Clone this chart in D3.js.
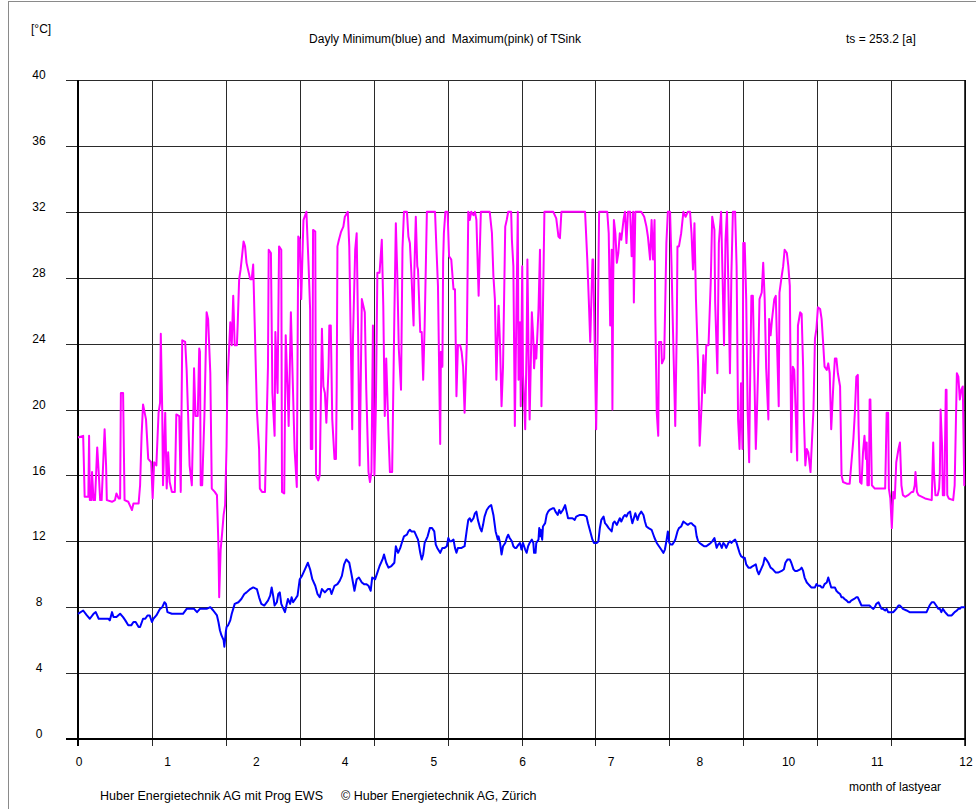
<!DOCTYPE html>
<html>
<head>
<meta charset="utf-8">
<script src="https://cdn.jsdelivr.net/npm/d3@7"></script>
<style>
  html, body { margin: 0; padding: 0; background: #fff; }
  svg { display: block; }
  text { font-family: "Liberation Sans", Arial, sans-serif; font-size: 12px; fill: #000; white-space: pre; }
</style>
</head>
<body>
<svg id="chart" width="976" height="809"></svg>
<script>
// ---- data ----
const titleText = "Dayly Minimum(blue) and  Maximum(pink) of TSink";
const unitText = "[°C]";
const tsText = "ts = 253.2 [a]";
const xAxisTitle = "month of lastyear";
const footerLeft = "Huber Energietechnik AG mit Prog EWS";
const footerRight = "© Huber Energietechnik AG, Zürich";

const yTicks = [0, 4, 8, 12, 16, 20, 24, 28, 32, 36, 40];
const yTickLabels = ["0", "4", "8", "12", "16", "20", "24", "28", "32", "36", "40"];
const monthGrid = [0, 1, 2, 3, 4, 5, 6, 7, 8, 9, 10, 11, 12];
const xLabelPos = [0, 1.2, 2.4, 3.6, 4.8, 6, 7.2, 8.4, 9.6, 10.8, 12];
const xLabels = ["0", "1", "2", "4", "5", "6", "7", "8", "10", "11", "12"];

// Daily maximum (pink): month position and temperature
const maxMonth = [0.00,0.07,0.08,0.09,0.14,0.15,0.16,0.18,0.19,0.21,0.23,0.26,0.28,0.30,0.32,0.36,0.38,0.39,0.46,0.50,0.52,0.55,0.57,0.58,0.61,0.62,0.63,0.68,0.70,0.73,0.75,0.82,0.84,0.86,0.88,0.92,0.95,0.99,1.01,1.03,1.06,1.09,1.11,1.12,1.14,1.15,1.18,1.20,1.22,1.24,1.27,1.31,1.33,1.37,1.39,1.41,1.45,1.47,1.49,1.51,1.54,1.56,1.57,1.59,1.62,1.64,1.65,1.66,1.68,1.71,1.74,1.76,1.79,1.81,1.85,1.88,1.90,1.91,1.93,1.95,1.97,1.99,2.01,2.02,2.06,2.08,2.10,2.12,2.15,2.16,2.18,2.20,2.24,2.26,2.28,2.33,2.35,2.37,2.39,2.42,2.45,2.46,2.49,2.53,2.57,2.58,2.61,2.63,2.66,2.67,2.70,2.72,2.75,2.76,2.79,2.81,2.84,2.85,2.88,2.90,2.93,2.96,2.98,3.00,3.02,3.05,3.09,3.12,3.14,3.15,3.17,3.18,3.21,3.22,3.25,3.27,3.30,3.32,3.34,3.36,3.39,3.40,3.42,3.44,3.47,3.49,3.50,3.51,3.53,3.56,3.59,3.61,3.65,3.67,3.69,3.71,3.72,3.75,3.77,3.79,3.81,3.84,3.86,3.88,3.90,3.93,3.95,3.97,3.99,4.01,4.03,4.05,4.08,4.11,4.13,4.15,4.17,4.20,4.22,4.25,4.28,4.30,4.32,4.34,4.37,4.39,4.41,4.45,4.47,4.49,4.51,4.54,4.55,4.57,4.59,4.60,4.63,4.65,4.67,4.69,4.72,4.83,4.85,4.87,4.90,4.91,4.93,4.94,4.95,4.97,5.00,5.02,5.05,5.08,5.10,5.12,5.14,5.17,5.19,5.21,5.23,5.26,5.28,5.30,5.32,5.35,5.37,5.39,5.42,5.45,5.57,5.60,5.62,5.64,5.66,5.69,5.71,5.73,5.75,5.78,5.80,5.82,5.86,5.87,5.89,5.91,5.93,5.95,5.96,5.98,5.99,6.01,6.02,6.05,6.07,6.08,6.10,6.11,6.14,6.16,6.17,6.19,6.20,6.23,6.25,6.27,6.29,6.31,6.43,6.47,6.50,6.52,6.54,6.86,6.89,6.91,6.93,6.96,6.97,6.99,7.01,7.03,7.05,7.16,7.18,7.20,7.22,7.23,7.24,7.25,7.27,7.29,7.31,7.33,7.35,7.38,7.40,7.42,7.44,7.47,7.49,7.51,7.52,7.54,7.62,7.66,7.69,7.71,7.74,7.76,7.78,7.80,7.81,7.83,7.85,7.86,7.89,7.90,7.93,7.95,7.96,7.98,8.01,8.03,8.05,8.08,8.10,8.11,8.13,8.16,8.19,8.22,8.25,8.28,8.30,8.32,8.34,8.36,8.39,8.41,8.44,8.46,8.48,8.50,8.53,8.56,8.58,8.61,8.62,8.65,8.67,8.70,8.72,8.74,8.76,8.78,8.80,8.82,8.84,8.86,8.89,8.91,8.93,8.95,8.97,8.99,9.00,9.02,9.04,9.06,9.08,9.09,9.11,9.13,9.15,9.17,9.18,9.20,9.22,9.25,9.27,9.29,9.31,9.34,9.35,9.37,9.39,9.42,9.44,9.46,9.48,9.49,9.52,9.54,9.56,9.59,9.61,9.63,9.65,9.67,9.69,9.71,9.73,9.74,9.77,9.79,9.81,9.82,9.84,9.86,9.88,9.91,9.92,9.95,9.97,9.99,10.01,10.04,10.06,10.08,10.10,10.13,10.15,10.17,10.19,10.22,10.24,10.26,10.28,10.31,10.33,10.35,10.40,10.44,10.46,10.49,10.51,10.53,10.55,10.56,10.58,10.60,10.62,10.64,10.66,10.67,10.68,10.70,10.71,10.72,10.74,10.78,10.92,10.93,10.94,10.96,10.97,10.99,11.01,11.03,11.05,11.07,11.10,11.12,11.14,11.16,11.19,11.23,11.28,11.30,11.32,11.33,11.35,11.37,11.46,11.55,11.57,11.58,11.60,11.63,11.65,11.66,11.67,11.69,11.70,11.72,11.74,11.75,11.76,11.78,11.84,11.86,11.89,11.91,11.93,11.95,11.97,11.99,12.00];
const maxTemp = [18.3,18.4,16.6,14.7,14.7,18.4,14.5,14.5,16.2,14.5,14.5,17.7,16.2,14.5,14.5,18.8,16.6,14.5,14.4,14.5,14.9,14.6,14.6,21.0,21.0,17.7,14.5,14.4,14.2,13.9,14.3,14.3,15.4,18.4,20.3,19.4,17.0,16.8,14.6,16.8,16.6,19.8,20.4,24.6,19.8,15.4,19.8,15.2,17.4,15.6,15.0,15.0,19.7,19.6,15.0,24.2,24.1,22.4,19.6,16.6,15.4,19.6,22.5,19.6,19.6,23.7,23.5,15.4,15.4,19.6,25.9,25.5,22.2,15.2,15.0,14.8,11.7,8.6,11.5,12.5,13.6,14.2,17.8,21.4,25.3,23.9,26.9,23.9,23.9,25.1,27.9,28.5,30.2,29.9,28.9,27.9,27.9,28.8,25.3,20.0,17.6,15.2,15.0,15.0,22.6,29.7,29.5,21.0,18.4,24.7,21.0,29.9,29.7,15.0,14.9,24.5,20.6,19.0,25.9,22.6,17.6,15.3,30.5,30.3,26.7,31.5,32.0,28.7,26.1,17.6,17.6,30.9,30.8,16.0,15.7,16.0,24.9,21.4,21.0,19.2,22.6,25.1,25.1,19.4,17.0,17.0,21.4,29.9,30.3,30.8,31.1,31.7,32.0,29.9,24.3,18.8,24.3,29.7,30.7,24.5,16.6,26.7,26.3,25.9,21.2,16.2,15.6,16.2,25.1,16.0,20.2,28.3,28.3,30.3,26.3,19.6,23.1,18.6,16.2,16.2,25.7,31.3,28.1,23.7,21.2,29.8,32.0,32.0,30.5,30.1,28.3,25.1,28.3,31.7,28.7,28.5,24.7,24.7,21.8,25.1,32.0,32.0,29.7,27.5,17.9,23.5,22.6,29.1,30.7,32.0,32.0,29.3,29.1,27.3,27.3,20.8,23.9,23.9,23.5,22.6,19.8,24.0,32.0,31.5,32.0,31.8,32.0,31.5,26.9,32.0,32.0,30.7,28.1,26.7,21.8,26.3,23.9,20.2,22.6,31.1,31.5,32.0,32.0,30.3,28.7,19.0,25.5,32.0,21.8,25.3,20.2,28.7,22.2,18.8,24.1,29.1,21.8,19.4,25.9,24.3,22.5,23.9,23.1,26.1,29.7,20.2,26.1,32.0,32.0,31.6,30.5,30.4,32.0,32.0,29.1,26.7,24.1,29.1,29.1,24.1,18.8,24.3,32.0,32.0,30.7,25.1,29.7,20.0,27.5,31.5,30.7,28.9,29.5,30.7,30.3,31.5,32.0,30.1,32.0,32.0,29.3,32.0,26.5,32.0,32.0,31.7,31.1,30.5,29.1,31.5,29.1,31.5,25.7,19.8,18.4,24.1,24.1,22.8,23.1,27.7,30.1,32.0,32.0,28.7,24.7,19.0,24.7,29.9,29.9,30.7,32.0,31.7,32.0,32.0,30.7,28.5,31.3,26.7,22.6,17.8,20.6,23.3,21.0,23.9,23.9,27.7,31.7,30.9,26.5,22.2,30.1,32.0,28.1,23.9,30.3,32.0,27.1,22.2,28.3,32.0,32.0,28.7,19.4,17.6,21.6,17.6,30.1,30.1,26.7,19.8,16.8,20.8,26.9,26.9,22.2,17.6,19.0,22.2,26.7,27.1,28.9,26.7,22.5,19.4,25.5,24.5,25.5,26.7,26.9,23.5,20.2,27.1,28.1,28.7,29.7,29.5,28.7,27.5,17.4,22.6,22.4,19.8,16.9,25.1,25.9,25.8,22.6,19.6,16.6,17.6,17.4,16.2,17.2,20.0,24.3,24.9,26.2,26.1,25.5,24.1,22.6,22.4,22.8,22.2,18.8,21.6,23.1,23.1,22.2,21.4,16.0,15.6,15.5,15.5,16.6,18.2,19.8,22.0,22.1,19.0,15.6,15.5,17.4,18.4,17.0,18.0,15.4,15.4,20.6,20.6,15.4,15.2,15.2,17.4,19.8,19.8,15.2,14.6,12.8,15.0,14.6,16.8,17.6,18.0,15.4,14.8,14.7,14.8,15.0,15.0,15.4,16.2,15.0,14.8,14.6,14.5,18.0,16.2,14.8,14.8,15.2,16.2,20.0,17.8,14.8,14.8,21.2,21.2,14.8,14.6,14.5,15.4,22.2,22.0,20.6,21.2,21.4,15.4,15.4];

// Daily minimum (blue): month position and temperature
const minMonth = [0.00,0.07,0.12,0.16,0.21,0.24,0.28,0.32,0.37,0.41,0.43,0.46,0.48,0.52,0.57,0.61,0.64,0.68,0.72,0.75,0.78,0.82,0.84,0.88,0.91,0.94,0.97,1.00,1.02,1.06,1.11,1.14,1.17,1.19,1.21,1.27,1.36,1.42,1.47,1.50,1.54,1.57,1.61,1.65,1.70,1.74,1.79,1.83,1.88,1.90,1.92,1.94,1.97,1.98,2.00,2.01,2.03,2.06,2.08,2.10,2.12,2.17,2.21,2.25,2.28,2.33,2.37,2.42,2.45,2.48,2.52,2.57,2.60,2.62,2.64,2.66,2.69,2.71,2.73,2.75,2.78,2.80,2.82,2.84,2.87,2.89,2.91,2.94,2.97,3.00,3.03,3.05,3.07,3.11,3.14,3.17,3.21,3.24,3.27,3.30,3.34,3.38,3.41,3.43,3.47,3.51,3.54,3.57,3.60,3.63,3.67,3.70,3.74,3.77,3.80,3.84,3.87,3.90,3.93,3.96,3.98,4.02,4.05,4.08,4.12,4.14,4.17,4.20,4.24,4.28,4.30,4.33,4.36,4.38,4.41,4.45,4.47,4.49,4.51,4.55,4.58,4.60,4.63,4.65,4.67,4.69,4.73,4.76,4.79,4.82,4.84,4.86,4.90,4.93,4.96,4.99,5.01,5.03,5.05,5.08,5.10,5.12,5.14,5.19,5.23,5.26,5.28,5.30,5.32,5.35,5.37,5.39,5.41,5.44,5.46,5.48,5.50,5.53,5.56,5.59,5.62,5.65,5.68,5.69,5.71,5.73,5.75,5.78,5.80,5.82,5.84,5.87,5.89,5.91,5.93,5.96,5.98,6.00,6.02,6.05,6.07,6.09,6.11,6.14,6.16,6.17,6.19,6.20,6.23,6.24,6.25,6.26,6.28,6.29,6.32,6.34,6.36,6.38,6.42,6.44,6.46,6.49,6.51,6.53,6.56,6.59,6.61,6.63,6.65,6.69,6.72,6.74,6.79,6.84,6.88,6.90,6.93,6.96,6.98,7.02,7.04,7.06,7.08,7.11,7.13,7.15,7.18,7.22,7.24,7.26,7.29,7.31,7.33,7.35,7.38,7.40,7.42,7.44,7.47,7.48,7.50,7.52,7.54,7.57,7.59,7.62,7.65,7.67,7.69,7.72,7.76,7.80,7.83,7.86,7.89,7.92,7.94,7.96,7.98,8.00,8.02,8.04,8.07,8.08,8.11,8.13,8.16,8.19,8.22,8.25,8.28,8.30,8.32,8.35,8.37,8.39,8.41,8.44,8.47,8.50,8.53,8.56,8.58,8.61,8.62,8.64,8.66,8.68,8.71,8.73,8.75,8.77,8.80,8.82,8.84,8.86,8.89,8.91,8.93,8.95,8.97,9.00,9.02,9.04,9.07,9.10,9.13,9.17,9.19,9.21,9.24,9.27,9.29,9.31,9.34,9.37,9.40,9.44,9.47,9.52,9.55,9.57,9.60,9.63,9.65,9.68,9.70,9.73,9.77,9.79,9.81,9.83,9.86,9.88,9.90,9.92,9.95,9.97,9.99,10.01,10.04,10.06,10.08,10.10,10.13,10.15,10.17,10.19,10.22,10.24,10.26,10.28,10.31,10.33,10.35,10.37,10.40,10.42,10.44,10.46,10.50,10.53,10.55,10.58,10.60,10.62,10.64,10.67,10.69,10.71,10.73,10.76,10.78,10.80,10.83,10.85,10.87,10.89,10.92,10.94,10.96,10.98,11.01,11.03,11.05,11.07,11.10,11.12,11.14,11.16,11.21,11.25,11.30,11.34,11.39,11.43,11.48,11.50,11.52,11.55,11.58,11.61,11.64,11.66,11.68,11.70,11.73,11.75,11.77,11.79,11.82,11.84,11.86,11.89,11.91,11.93,11.95,12.00];
const minTemp = [7.6,7.8,7.5,7.3,7.6,7.7,7.3,7.3,7.3,7.3,7.2,7.7,7.4,7.4,7.6,7.4,7.2,6.9,6.9,7.1,7.1,6.8,6.8,7.3,7.3,7.5,7.5,7.1,7.3,7.5,7.9,8.0,8.3,8.2,7.7,7.6,7.6,7.6,7.9,7.9,7.9,7.9,7.7,7.9,7.9,7.9,8.0,7.8,7.5,7.1,6.6,6.3,6.0,5.6,6.5,6.8,6.9,7.2,7.6,7.9,8.2,8.3,8.5,8.8,8.9,9.1,9.2,9.1,8.6,8.2,8.1,8.4,8.7,9.2,8.7,8.1,8.3,8.8,8.9,8.2,7.9,7.7,8.1,8.5,8.2,8.6,8.3,8.5,8.7,9.7,9.9,10.1,10.3,10.7,10.3,9.7,9.3,8.8,8.6,9.1,8.9,9.1,9.1,8.8,9.3,9.4,9.6,9.9,10.6,10.9,10.7,10.0,9.0,9.7,9.8,9.5,9.4,9.4,9.3,9.0,9.8,9.7,10.1,10.5,10.9,11.2,10.7,10.4,10.5,10.7,11.7,11.3,11.6,11.9,12.3,12.4,12.6,12.7,12.6,12.6,12.3,12.1,11.3,10.9,11.2,11.9,12.3,12.8,12.8,12.6,11.8,11.6,11.3,11.6,11.6,11.7,12.2,12.0,12.0,12.1,11.6,11.3,11.6,11.6,11.7,12.7,13.3,13.4,13.2,13.4,13.7,13.8,13.3,12.8,12.6,13.0,13.5,13.9,14.1,14.2,13.6,12.6,12.1,12.3,11.9,11.2,11.7,11.9,12.2,12.4,12.2,12.0,11.7,11.6,11.6,11.8,11.9,11.5,11.9,11.5,11.3,11.7,11.9,12.1,11.9,11.3,11.3,11.9,12.1,12.8,12.3,12.7,12.1,12.9,13.1,13.6,13.8,13.9,14.0,14.0,13.8,13.6,13.9,13.7,13.9,14.2,13.8,13.4,13.4,13.4,13.3,13.5,13.6,13.6,13.5,13.1,12.6,12.1,11.9,11.9,12.0,12.8,13.3,13.5,13.1,13.0,12.8,12.6,13.1,13.2,13.0,13.2,13.4,13.2,13.5,13.6,13.5,13.7,13.8,13.5,13.1,13.4,13.7,13.3,13.6,13.8,13.6,13.2,12.9,12.8,12.7,12.2,11.9,11.7,11.5,11.3,11.5,12.0,12.6,11.9,11.8,11.8,12.0,12.1,12.6,12.8,12.9,13.2,13.1,13.0,13.1,13.1,13.0,12.9,12.3,12.0,11.9,11.8,11.7,11.7,11.8,11.9,12.0,12.2,12.0,11.6,11.8,11.9,11.6,11.9,11.8,11.6,11.9,12.0,11.9,12.0,12.1,11.9,11.6,11.3,11.1,11.0,11.0,10.6,10.4,10.4,10.5,10.6,10.2,10.0,10.3,10.6,11.0,10.9,10.7,10.4,10.3,10.1,10.1,10.2,10.3,10.7,10.9,10.9,10.7,10.3,10.2,10.2,10.3,10.4,10.2,9.8,9.5,9.4,9.3,9.2,9.2,9.2,9.4,9.3,9.3,9.2,9.2,9.4,9.5,9.8,9.5,9.2,9.2,9.2,9.0,8.9,8.8,8.6,8.6,8.5,8.4,8.3,8.3,8.4,8.5,8.6,8.6,8.3,8.1,8.1,8.1,8.1,8.1,8.1,8.0,7.9,8.0,8.2,8.3,8.1,7.9,7.9,7.8,7.9,7.7,7.7,7.7,7.7,7.8,7.9,8.1,8.1,8.0,7.9,7.8,7.7,7.7,7.7,7.7,7.7,7.7,7.9,8.1,8.3,8.3,8.1,7.9,7.9,7.7,7.9,7.7,7.6,7.5,7.5,7.5,7.6,7.7,7.8,7.9,7.9,8.0,8.0];

// ---- drawing ----
const svg = d3.select("#chart");
const plotLeft = 78, plotRight = 965, plotTop = 80, plotBottom = 739;
const x = d3.scaleLinear().domain([0, 12]).range([plotLeft, plotRight]);
const y = d3.scaleLinear().domain([0, 40]).range([plotBottom, plotTop]);

// outer frame
svg.append("line").attr("x1", 8.5).attr("x2", 8.5).attr("y1", 1).attr("y2", 809)
  .attr("stroke", "#8a8a8a").attr("stroke-width", 1);
svg.append("line").attr("x1", 8).attr("x2", 976).attr("y1", 1.5).attr("y2", 1.5)
  .attr("stroke", "#8a8a8a").attr("stroke-width", 1);

// horizontal grid lines (with tick stubs to the left)
svg.append("g").selectAll("line").data(yTicks).join("line")
  .attr("x1", 66).attr("x2", plotRight)
  .attr("y1", d => Math.round(y(d)) + 0.5).attr("y2", d => Math.round(y(d)) + 0.5)
  .attr("stroke", "#2a2a2a").attr("stroke-width", 1);

// vertical grid lines (extend below x-axis as ticks)
svg.append("g").selectAll("line").data(monthGrid).join("line")
  .attr("x1", d => Math.round(x(d)) + 0.5).attr("x2", d => Math.round(x(d)) + 0.5)
  .attr("y1", plotTop).attr("y2", plotBottom + 7)
  .attr("stroke", "#2a2a2a").attr("stroke-width", 1);

// axes (thicker)
svg.append("line").attr("x1", plotLeft).attr("x2", plotLeft).attr("y1", plotTop).attr("y2", plotBottom + 7)
  .attr("stroke", "#000").attr("stroke-width", 2);
svg.append("line").attr("x1", 66).attr("x2", plotRight + 1).attr("y1", plotBottom).attr("y2", plotBottom)
  .attr("stroke", "#000").attr("stroke-width", 2);
svg.append("line").attr("x1", plotRight).attr("x2", plotRight).attr("y1", plotTop).attr("y2", plotBottom + 7)
  .attr("stroke", "#000").attr("stroke-width", 1.5);

// y labels
svg.append("g").selectAll("text").data(yTicks).join("text")
  .attr("x", 39).attr("y", d => y(d) - 4)
  .attr("text-anchor", "middle").attr("dominant-baseline", "middle")
  .text((d, i) => yTickLabels[i]);

// x labels
svg.append("g").selectAll("text").data(xLabelPos).join("text")
  .attr("x", d => x(d) + 1).attr("y", 763)
  .attr("text-anchor", "middle").attr("dominant-baseline", "middle")
  .text((d, i) => xLabels[i]);

// series
const line = d3.line().defined(d => d[1] != null && !isNaN(d[1])).x(d => x(d[0])).y(d => y(d[1]));
const maxData = maxMonth.map((m, i) => [m, maxTemp[i]]);
const minData = minMonth.map((m, i) => [m, minTemp[i]]);

svg.append("path").datum(maxData).attr("d", line)
  .attr("fill", "none").attr("stroke", "#ff00ff").attr("stroke-width", 2)
  .attr("stroke-linejoin", "round");
svg.append("path").datum(minData).attr("d", line)
  .attr("fill", "none").attr("stroke", "#0000ff").attr("stroke-width", 2)
  .attr("stroke-linejoin", "round");

// texts
svg.append("text").attr("x", 31).attr("y", 30).attr("dominant-baseline", "middle").text(unitText);
svg.append("text").attr("x", 445).attr("y", 40).attr("text-anchor", "middle")
  .attr("dominant-baseline", "middle").text(titleText);
svg.append("text").attr("x", 846).attr("y", 40).attr("dominant-baseline", "middle").text(tsText);
svg.append("text").attr("x", 849).attr("y", 788).attr("dominant-baseline", "middle").text(xAxisTitle);
svg.append("text").attr("x", 100).attr("y", 797).attr("dominant-baseline", "middle")
  .style("font-size", "12.5px").text(footerLeft);
svg.append("text").attr("x", 341).attr("y", 797).attr("dominant-baseline", "middle")
  .style("font-size", "12.5px").text(footerRight);
</script>
</body>
</html>
